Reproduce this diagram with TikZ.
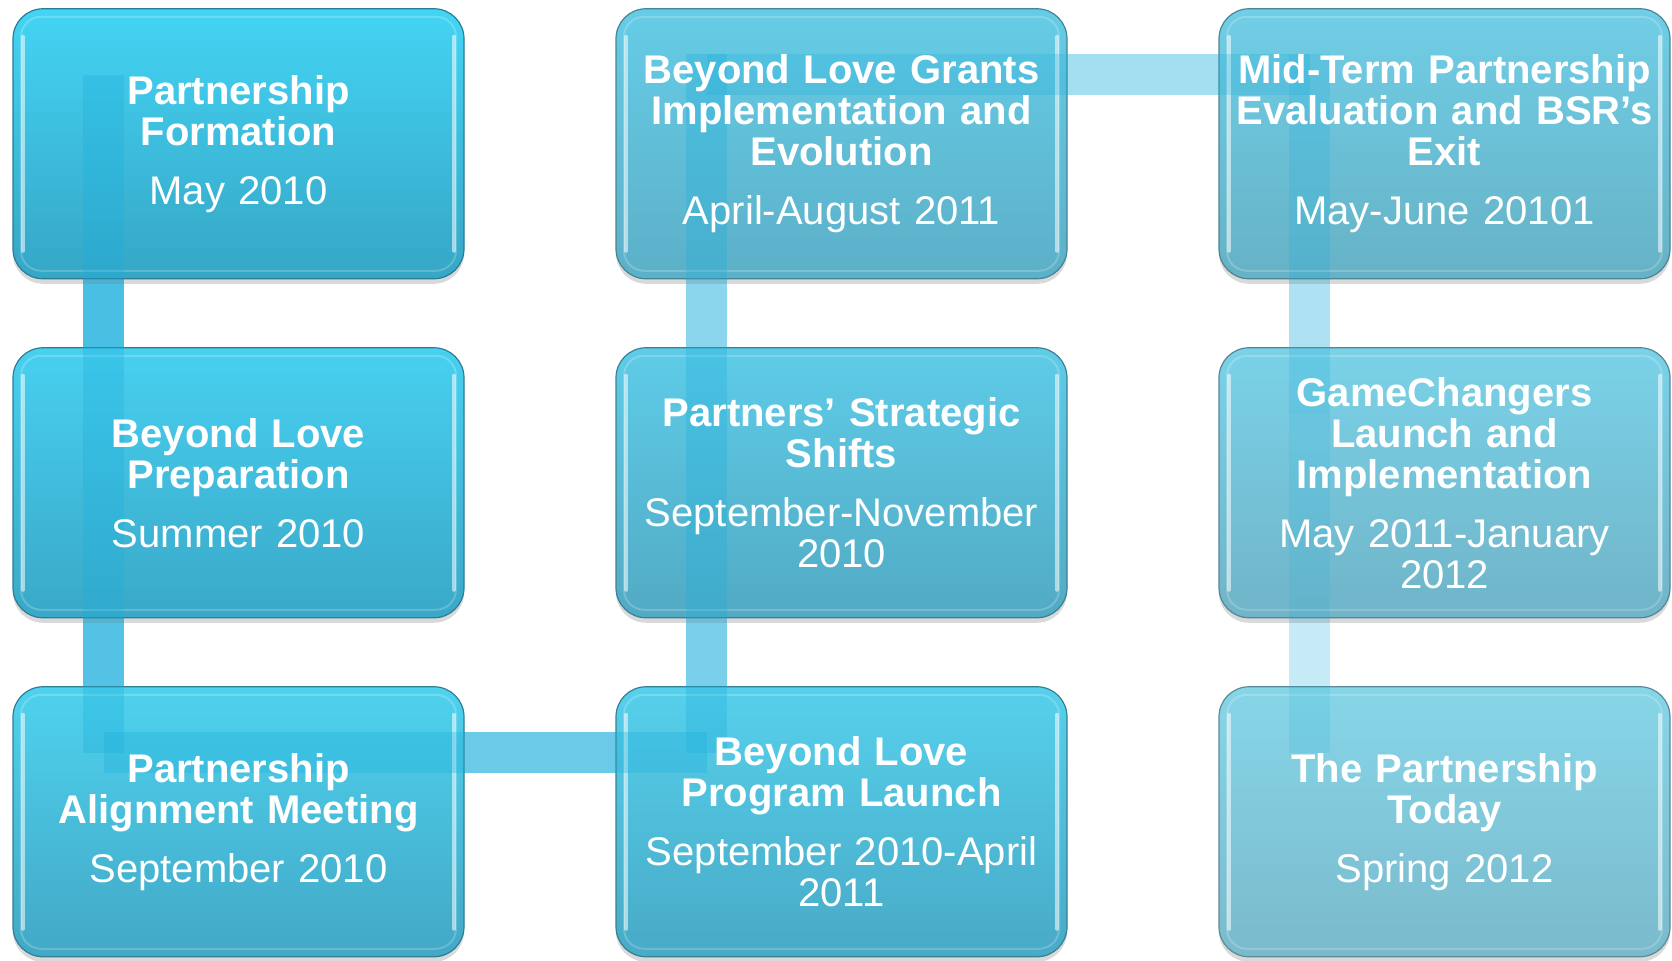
\documentclass[tikz,border=0pt]{standalone}
\usepackage{fontspec}
\setmainfont{Liberation Sans}
\usetikzlibrary{positioning,shadows}

\definecolor{barblue}{HTML}{1AAEDC}
\definecolor{topA}{HTML}{44D4F4}\definecolor{botA}{HTML}{36A6C6}
\definecolor{topB}{HTML}{48D0F0}\definecolor{botB}{HTML}{3AA8C8}
\definecolor{topC}{HTML}{4ED2EE}\definecolor{botC}{HTML}{42A8C6}
\definecolor{topD}{HTML}{56D0EC}\definecolor{botD}{HTML}{48AAC6}
\definecolor{topE}{HTML}{5ECCE8}\definecolor{botE}{HTML}{52AAC4}
\definecolor{topF}{HTML}{66CCE6}\definecolor{botF}{HTML}{5CB0C8}
\definecolor{topG}{HTML}{70CEE6}\definecolor{botG}{HTML}{66B2C6}
\definecolor{topH}{HTML}{7AD2E8}\definecolor{botH}{HTML}{70B4C8}
\definecolor{topI}{HTML}{86D6E8}\definecolor{botI}{HTML}{7ABACC}

\pgfdeclarelayer{bars}
\pgfsetlayers{bars,main}

\newcommand{\stagetext}[2]{{\bfseries #1\par}\vspace{9pt}#2}

\tikzset{
  stage/.style 2 args={rounded corners=15pt, minimum width=225.5pt, minimum height=135pt,
    inner sep=0pt, outer sep=0pt, top color=#1, bottom color=#2, draw=#2!75!black, line width=0.6pt,
    drop shadow={shadow xshift=0pt, shadow yshift=-2.5pt, opacity=0.3}},
  gloss/.style={draw=white, draw opacity=0.2, line width=1pt, rounded corners=10pt},
  shine/.style={draw=white, draw opacity=0.55, line width=2pt, line cap=round},
  link/.style={draw=barblue, draw opacity=#1, line width=20.5pt},
  stagetext/.style={text=white, text width=222pt, align=center, inner sep=0pt,
    font=\fontsize{20pt}{20.5pt}\selectfont},
}

\begin{document}
\begin{tikzpicture}[x=0.5pt,y=-0.5pt]
\useasboundingbox (0,0) rectangle (1672,960);

% boxes
\node[stage={topA}{botA}] (b1) at (238.5,143.75) {};
\node[stage={topB}{botB}, below=34.5pt of b1] (b2) {};
\node[stage={topC}{botC}, below=34.5pt of b2] (b3) {};
\node[stage={topD}{botD}, right=76pt of b3] (b4) {};
\node[stage={topE}{botE}, above=34.5pt of b4] (b5) {};
\node[stage={topF}{botF}, above=34.5pt of b5] (b6) {};
\node[stage={topG}{botG}, right=76pt of b6] (b7) {};
\node[stage={topH}{botH}, below=34.5pt of b7] (b8) {};
\node[stage={topI}{botI}, below=34.5pt of b8] (b9) {};

\foreach \b in {b1,b2,b3,b4,b5,b6,b7,b8,b9} {
  \draw[gloss] ([shift={(4pt,-4pt)}]\b.north west) rectangle ([shift={(-4pt,4pt)}]\b.south east);
  \draw[shine] ([shift={(5pt,-14pt)}]\b.north west) -- ([shift={(5pt,14pt)}]\b.south west);
  \draw[shine] ([shift={(-5pt,-14pt)}]\b.north east) -- ([shift={(-5pt,14pt)}]\b.south east);
}

% bent connectors: under the boxes, then a light wash over them
\foreach \p/\s/\q/\e/\under/\over in {b1/33/b2/33/0.71/0.3, b2/33/b3/33/0.64/0.3,
    b3/33/b4/33/0.5/0.3, b4/33/b5/33/0.4/0.3, b5/33/b6/22.75/0.29/0.3,
    b6/33/b7/33/0.21/0.24, b7/22.75/b8/33/0.18/0.21, b8/33/b9/33/0.12/0.15} {
  \begin{pgfonlayer}{bars}
    \draw[link=\under] ([xshift=45.25pt,yshift=-\s pt]\p.north west) -- ([xshift=45.25pt,yshift=-\e pt]\q.north west);
  \end{pgfonlayer}
  \draw[link=\over] ([xshift=45.25pt,yshift=-\s pt]\p.north west) -- ([xshift=45.25pt,yshift=-\e pt]\q.north west);
}

% texts
\node[stagetext] (t1) at (b1) {\stagetext{Partnership\\Formation}{May 2010}};
\node[stagetext] (t2) at (b2) {\stagetext{Beyond Love\\Preparation}{Summer 2010}};
\node[stagetext] (t3) at (b3) {\stagetext{Partnership\\Alignment Meeting}{September 2010}};
\node[stagetext] (t4) at (b4) {\stagetext{Beyond Love\\Program Launch}{September 2010-April\\2011}};
\node[stagetext] (t5) at (b5) {\stagetext{Partners’ Strategic\\Shifts}{September-November\\2010}};
\node[stagetext] (t6) at (b6) {\stagetext{Beyond Love Grants\\Implementation and\\Evolution}{April-August 2011}};
\node[stagetext] (t7) at (b7) {\stagetext{Mid-Term Partnership\\Evaluation and BSR’s\\Exit}{May-June 20101}};
\node[stagetext] (t8) at (b8) {\stagetext{GameChangers\\Launch and\\Implementation}{May 2011-January\\2012}};
\node[stagetext] (t9) at (b9) {\stagetext{The Partnership\\Today}{Spring 2012}};
\end{tikzpicture}
\end{document}
